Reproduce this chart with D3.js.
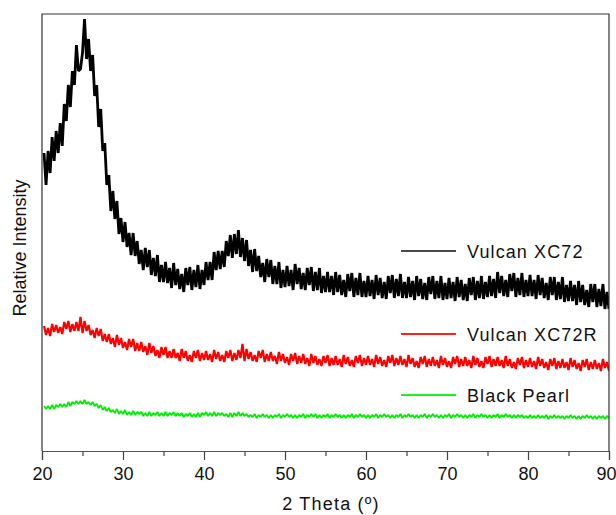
<!DOCTYPE html>
<html><head><meta charset="utf-8">
<script src="https://cdn.jsdelivr.net/npm/d3@7"></script>
<style>
body{margin:0;background:#fff}
svg{display:block;font-family:"Liberation Sans",Arial,Helvetica,sans-serif}
</style>
</head><body>
<svg id="chart" width="616" height="515"></svg>
<script>
// ---- data (uniform 2θ scan, start 20.25°, step 0.25°) ----
const thetaStart = 20.25;
const thetaStep = 0.25;
const xTickValues = [20, 30, 40, 50, 60, 70, 80, 90];
const xMinorTicks = [25, 35, 45, 55, 65, 75, 85];
const seriesNames = ["Vulcan XC72", "Vulcan XC72R", "Black Pearl"];
const seriesColors = ["#000000", "#ff0000", "#00ee00"];
const legendColors = ["#4a4a4a", "#ff2020", "#22ee22"];

const vulcanXC72 = [
298,266,300,278, 314,290,320,298, 328,305,347,330, 366,344,380,366, 406,380,382,398,
432,392,412,380, 396,355,366,324, 342,300,308,266, 276,240,260,232, 250,217,233,209,
229,204,218,196, 218,195,210,187, 201,181,203,184, 201,176,193,175, 196,169,186,169,
189,168,183,163, 188,166,182,162, 177,159,183,166, 184,161,181,164, 186,162,181,166,
189,171,189,171, 199,181,200,182, 200,184,210,195, 216,193,217,197, 221,194,213,190,
211,185,201,179, 202,180,195,174, 188,169,192,174, 191,167,185,167, 189,163,181,164,
185,165,181,161, 187,167,183,162, 178,161,183,166, 184,160,179,161, 183,158,175,159,
179,159,175,156, 179,159,176,156, 171,154,177,160, 178,154,173,156, 178,154,170,154,
175,155,171,152, 176,156,173,153, 169,152,175,158, 176,153,172,155, 177,153,169,153,
174,154,170,151, 175,155,172,152, 168,151,174,157, 175,152,170,153, 175,151,168,152,
173,153,169,150, 174,154,171,151, 167,150,173,156, 174,151,170,153, 175,152,169,154,
175,155,172,153, 179,158,175,155, 171,154,177,160, 178,154,173,156, 178,154,171,155,
176,155,171,152, 176,156,173,153, 168,151,174,156, 174,151,169,152, 174,149,166,150,
170,150,166,146, 170,149,166,146, 161,144,167,149, 167,144,162,145, 167,142,159,142
];

const vulcanXC72R = [
125,116,123,115, 127,119,126,118, 124,117,129,122, 130,119,127,120, 129,120,134,118,
130,120,126,116, 121,113,123,115, 122,110,117,109, 117,107,113,104, 116,106,113,103,
109,101,112,104, 112,100,108,100, 109,99,105,96, 108,98,105,95, 101,93,104,96,
104,93,100,93, 102,93,98,90, 102,93,100,90, 96,89,100,93, 101,90,98,91,
100,91,97,89, 101,92,99,90, 96,89,100,93, 101,90,98,91, 101,93,107,90,
102,92,99,90, 96,89,100,93, 101,89,97,90, 99,90,95,87, 99,90,97,88,
94,86,97,90, 98,87,95,88, 97,87,93,85, 97,88,95,86, 92,85,95,88,
96,85,93,86, 95,86,92,84, 96,87,94,85, 91,84,95,88, 96,85,93,86,
95,86,92,84, 96,87,94,85, 91,84,95,88, 96,85,93,86, 95,86,92,84,
96,87,93,84, 90,83,94,87, 95,84,92,85, 94,85,91,83, 95,86,93,84,
90,83,94,87, 95,84,92,85, 94,85,91,83, 95,86,93,84, 90,83,94,87,
95,84,92,85, 94,85,91,83, 95,85,92,83, 89,82,93,86, 94,83,91,84,
93,84,90,82, 94,85,92,83, 89,81,92,85, 93,82,90,83, 92,83,89,81,
93,84,91,82, 88,80,91,84, 92,81,89,82, 91,82,88,80, 92,83,89,80
];

const blackPearl = [
45,42,45,42, 46,42,46,44, 47,44,47,44, 49,45,49,47, 50,47,50,47,
51,47,49,46, 49,45,47,43, 46,41,44,40, 43,39,41,38, 42,37,40,37,
41,36,39,36, 40,36,39,37, 39,35,38,35, 39,35,38,36, 39,35,38,35,
39,35,38,36, 39,35,38,35, 38,34,37,35, 38,34,37,34, 38,34,38,36,
39,35,38,35, 39,35,38,36, 38,35,37,34, 38,34,38,35, 39,35,38,35,
37,34,36,34, 37,33,36,34, 37,34,36,33, 36,33,36,34, 37,33,36,34,
37,34,36,33, 36,33,36,34, 37,33,36,34, 37,34,37,33, 36,33,36,34,
37,33,36,34, 37,34,36,33, 36,33,36,34, 37,33,36,34, 37,34,36,33,
36,33,36,34, 37,33,36,34, 37,34,36,33, 36,33,36,34, 37,33,36,34,
37,34,36,33, 36,33,36,34, 37,33,36,34, 37,34,36,33, 36,33,36,34,
37,33,36,34, 37,34,36,33, 36,33,36,34, 37,33,36,34, 37,34,36,33,
36,33,36,34, 37,33,36,34, 37,34,36,33, 36,33,36,34, 36,33,35,33,
36,33,35,33, 36,33,35,33, 36,32,35,33, 36,33,35,33, 35,32,35,33,
36,33,35,32, 35,32,35,33, 36,33,35,32, 35,32,35,33, 35,32,35,33
];

const allSeries = [vulcanXC72, vulcanXC72R, blackPearl];

// ---- layout ----
const svg = d3.select("#chart");
const plotLeft = 42, plotRight = 609, plotTop = 14, plotBottom = 451;

const x = d3.scaleLinear().domain([20, 90]).range([plotLeft, plotRight]);
const y = d3.scaleLinear().domain([0, 437]).range([plotBottom, plotTop]);

svg.append("defs").append("clipPath").attr("id", "clip")
  .append("rect").attr("x", plotLeft).attr("y", plotTop)
  .attr("width", plotRight - plotLeft).attr("height", plotBottom - plotTop);

const plot = svg.append("g");

const line = d3.line()
  .x((d, i) => x(thetaStart + i * thetaStep))
  .y(d => y(d));

const strokeWidths = [2.8, 2.2, 1.8];

// draw series (bottom-most first)
[2, 1, 0].forEach(k => {
  plot.append("path")
    .datum(allSeries[k])
    .attr("clip-path", "url(#clip)")
    .attr("fill", "none")
    .attr("stroke", seriesColors[k])
    .attr("stroke-width", strokeWidths[k])
    .attr("stroke-linejoin", "bevel")
    .attr("d", line);
});

// frame
svg.append("path")
  .attr("d", `M${plotLeft},${plotBottom}V${plotTop}H${plotRight}V${plotBottom}`)
  .attr("fill", "none").attr("stroke", "#333").attr("stroke-width", 1.2);

// x axis
const xAxis = d3.axisBottom(x).tickValues(xTickValues).tickSize(9).tickPadding(7)
  .tickFormat(d3.format("d"));
const gx = svg.append("g").attr("transform", `translate(0,${plotBottom})`).call(xAxis);
gx.select(".domain").attr("stroke", "#555").attr("stroke-width", 1.2);
gx.selectAll(".tick line").attr("stroke", "#444").attr("stroke-width", 1.2);
gx.selectAll(".tick text").attr("font-size", 18).attr("fill", "#111")
  .attr("font-family", "'Liberation Sans', Arial, sans-serif")
  .attr("dx", d => d === 90 ? -3 : 0);

const gMinor = svg.append("g").attr("transform", `translate(0,${plotBottom})`)
  .call(d3.axisBottom(x).tickValues(xMinorTicks).tickSize(5).tickFormat(""));
gMinor.select(".domain").remove();
gMinor.selectAll(".tick line").attr("stroke", "#444").attr("stroke-width", 1.2);

// axis titles
svg.append("text").attr("x", 331).attr("y", 510)
  .attr("text-anchor", "middle").attr("font-size", 18).attr("letter-spacing", 1.2)
  .attr("fill", "#111").text("2 Theta (º)");

svg.append("text")
  .attr("transform", `translate(26,248) rotate(-90)`)
  .attr("text-anchor", "middle").attr("font-size", 18).attr("fill", "#111")
  .text("Relative Intensity");

// legend
const legendY = [251, 334, 395];
seriesNames.forEach((name, i) => {
  const g = svg.append("g").attr("transform", `translate(0,${legendY[i]})`);
  g.append("line").attr("x1", 401).attr("x2", 456).attr("y1", 0).attr("y2", 0)
    .attr("stroke", legendColors[i]).attr("stroke-width", 2);
  g.append("text").attr("x", 467).attr("y", 6.5)
    .attr("font-size", 18).attr("letter-spacing", 1.1).attr("fill", "#111").text(name);
});
</script>
</body></html>
